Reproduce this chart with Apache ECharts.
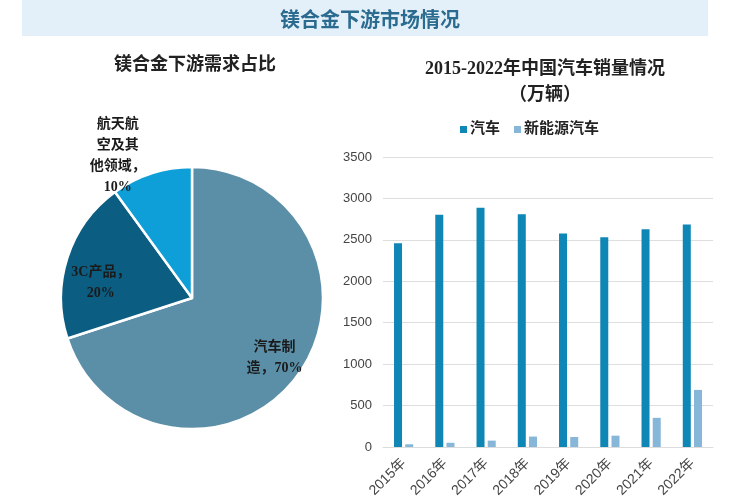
<!DOCTYPE html>
<html>
<head>
<meta charset="utf-8">
<script src="https://cdn.jsdelivr.net/npm/echarts@6/dist/echarts.min.js"></script>
<style>html,body{margin:0;padding:0;background:#fff}#c{width:750px;height:500px}</style>
</head>
<body>
<div id="c"></div>
<script>
const pieNames = ['汽车制造', '3C产品', '航天航空及其他领域'];
const pieValues = [70, 20, 10];
const pieLabels = ['汽车制\n造，70%', '3C产品，\n20%', '航天航\n空及其\n他领域，\n10%'];
const years = ['2015年', '2016年', '2017年', '2018年', '2019年', '2020年', '2021年', '2022年'];
const carSales = [2460, 2803, 2888, 2808, 2576, 2531, 2627, 2686];
const nevSales = [33, 51, 77, 126, 121, 137, 352, 689];
const yTicks = [0, 500, 1000, 1500, 2000, 2500, 3000, 3500];

const serif = "'Liberation Serif', 'Noto Sans CJK SC', serif";
const pieColors = ['#5b8fa8', '#0c5d82', '#0e9fd9'];
const labelShift = [[27, 20], [-26, 6], [-53, -77]];

const chart = echarts.init(document.getElementById('c'));
chart.setOption({
  backgroundColor: '#fff',
  animation: false,
  graphic: [{
    type: 'rect', left: 22, top: 0, z: -1,
    shape: { width: 686, height: 36 },
    style: { fill: '#e4f0f9' }
  }],
  title: [
    { text: '镁合金下游市场情况', left: 365, top: 7, textAlign: 'center',
      textStyle: { fontFamily: serif, fontSize: 20, fontWeight: 'bold', color: '#2b6b90' } },
    { text: '镁合金下游需求占比', left: 190, top: 51, textAlign: 'center',
      textStyle: { fontFamily: serif, fontSize: 18, fontWeight: 'bold', color: '#222' } },
    { text: '2015-2022年中国汽车销量情况\n（万辆）', left: 540, top: 51, textAlign: 'center',
      textStyle: { fontFamily: serif, fontSize: 18, fontWeight: 'bold', color: '#222', lineHeight: 26 } }
  ],
  legend: {
    data: ['汽车', '新能源汽车'],
    left: 455, top: 117,
    icon: 'rect', itemWidth: 7, itemHeight: 7, itemGap: 14,
    textStyle: { fontFamily: serif, fontSize: 15, fontWeight: 'bold', color: '#222', padding: [0, 0, 0, -2] }
  },
  grid: { left: 383, right: 37, top: 157, bottom: 52 },
  xAxis: {
    type: 'category', data: years,
    axisLine: { show: true, lineStyle: { color: '#dcdcdc' } },
    axisTick: { show: false },
    axisLabel: { rotate: 45, fontSize: 14, color: '#444', fontFamily: "'Liberation Sans', 'Noto Sans CJK SC'", margin: 14 }
  },
  yAxis: {
    type: 'value', min: yTicks[0], max: yTicks[yTicks.length - 1], interval: 500,
    axisLine: { show: false }, axisTick: { show: false },
    splitLine: { lineStyle: { color: '#dedede' } },
    axisLabel: { fontSize: 13, color: '#444', margin: 11, fontFamily: "'Liberation Sans', sans-serif",
      formatter: v => String(v) }
  },
  series: [
    {
      type: 'pie', center: [192, 298], radius: 131, startAngle: 90, clockwise: true,
      data: pieNames.map((n, i) => ({
        name: n, value: pieValues[i],
        itemStyle: { color: pieColors[i] }
      })),
      itemStyle: { borderColor: '#fff', borderWidth: 2.5 },
      label: {
        position: 'inside',
        formatter: p => pieLabels[p.dataIndex],
        fontFamily: serif, fontSize: 14, fontWeight: 'bold', color: '#1a1a1a', lineHeight: 21
      },
      labelLayout: p => ({ dx: labelShift[p.dataIndex][0], dy: labelShift[p.dataIndex][1] }),
      labelLine: { show: false },
      emphasis: { disabled: true }
    },
    {
      name: '汽车', type: 'bar', data: carSales, barWidth: 8, barGap: '40%',
      itemStyle: { color: '#0e86b6' }
    },
    {
      name: '新能源汽车', type: 'bar', data: nevSales, barWidth: 8,
      itemStyle: { color: '#86b6d8' }
    }
  ]
});
</script>
</body>
</html>
